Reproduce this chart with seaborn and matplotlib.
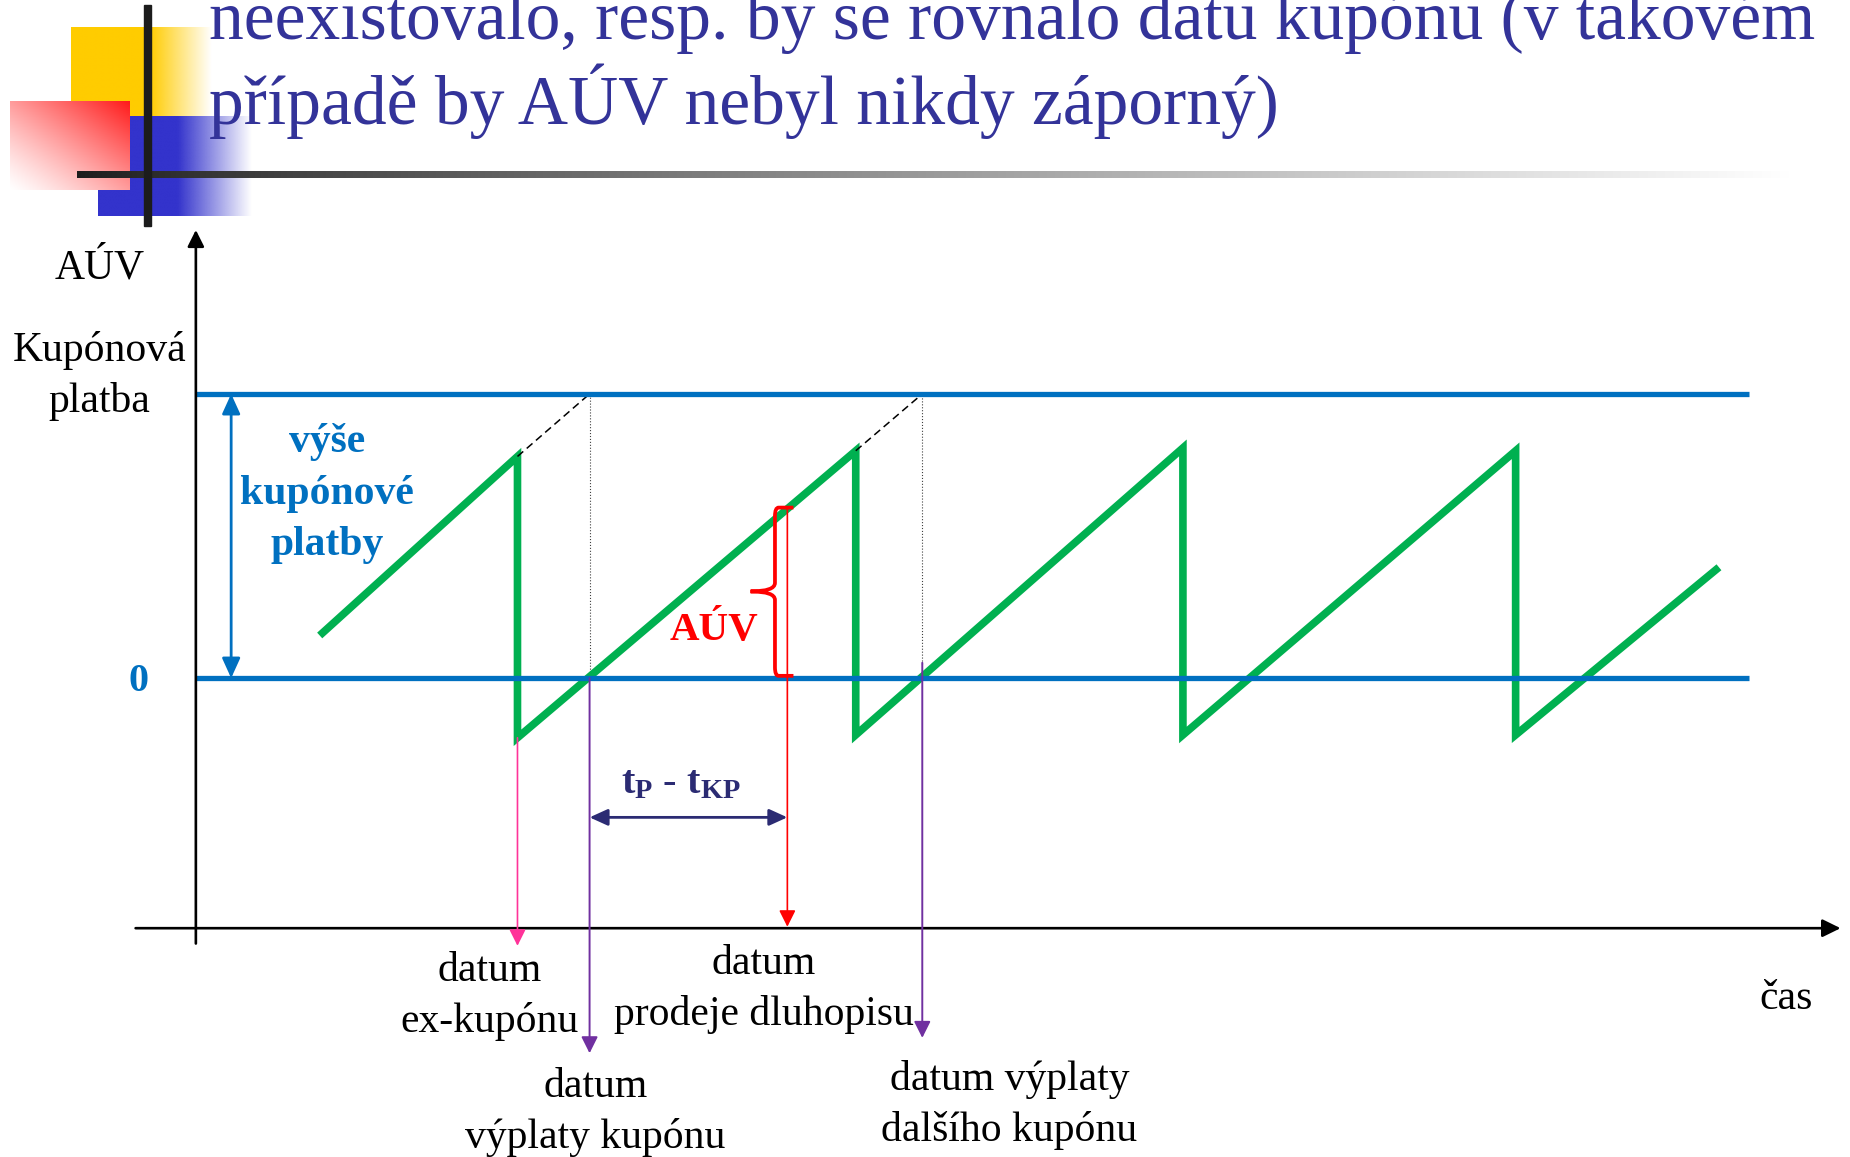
import numpy as np
import matplotlib
matplotlib.use("Agg")
import matplotlib.pyplot as plt
import seaborn as sns
from matplotlib.colors import to_rgb
from matplotlib.path import Path
from matplotlib.patches import PathPatch, Rectangle

# ---------------- data ----------------
title_lines = ["neexistovalo, resp. by se rovnalo datu kupónu (v takovém",
               "případě by AÚV nebyl nikdy záporný)"]
auv_days = [67, 174, 174, 357, 357, 534, 534, 714, 714, 824]
auv_values = [0.15, 0.78, -0.21, 0.80, -0.20, 0.81, -0.20, 0.80, -0.20, 0.39]
level_values = [0.0, 1.0]          # zero line, coupon payment level
ext_start_days = [174, 357]
ext_start_values = [0.78, 0.80]
ext_end_days = [213, 393]
ex_coupon_day = 174
coupon_day = 213
sale_day = 320
next_coupon_day = 393
sale_auv = 0.60

y_label = "AÚV"
level_label = "Kupónová\nplatba"
zero_label = "0"
coupon_label = "výše\nkupónové\nplatby"
auv_label = "AÚV"
diff_label = r"t$_{\mathbf{P}}$ - t$_{\mathbf{KP}}$"
x_label = "čas"
date_labels = ["datum\nex-kupónu", "datum\nprodeje dluhopisu",
               "datum\nvýplaty kupónu", "datum výplaty\ndalšího kupónu"]

# ---------------- style ----------------
GREEN = "#00b050"
BLUE = "#0070c0"
RED = "#ff0000"
PURPLE = "#7030a0"
PINK = "#ff3399"
NAVY = "#2b2b73"
TITLE = "#333399"

sns.set_theme(style="white")
plt.rcParams["font.family"] = ["Liberation Serif", "DejaVu Serif"]
plt.rcParams["mathtext.fontset"] = "custom"
plt.rcParams["mathtext.rm"] = "Liberation Serif"
plt.rcParams["mathtext.bf"] = "Liberation Serif:bold"
plt.rcParams["mathtext.it"] = "Liberation Serif:italic"

fig = plt.figure(figsize=(18.5, 11.57), dpi=100)

# ---------------- decorative header (pixel space) ----------------
bg = fig.add_axes([0, 0, 1, 1], zorder=0)


def hfade(x0, x1, y0, y1, color, solid_to, n=300):
    xs = np.linspace(x0, x1, n)
    a = np.clip((x1 - xs) / (x1 - solid_to), 0, 1)
    img = np.ones((1, n, 4))
    img[..., :3] = to_rgb(color)
    img[..., 3] = a
    bg.imshow(img, extent=(x0, x1, y1, y0), aspect="auto",
              interpolation="bilinear", zorder=1)


hfade(71, 212, 27, 116, "#ffcc00", 150)
hfade(98, 252, 116, 216, "#3333cc", 178)

n = 200
u = np.linspace(0, 1, n)[None, :]
v = np.linspace(1, 0, n)[:, None]
a = np.clip(((u + v) / 2) ** 1.2, 0, 1)
red_rgb = np.array(to_rgb("#ff1a1a"))
img = (1 - a)[..., None] * np.ones(3) + a[..., None] * red_rgb
bg.imshow(img, extent=(10, 130, 190, 101), aspect="auto",
          interpolation="bilinear", zorder=2)

xs = np.linspace(0, 1, 600)
g = 0.11 + 0.89 * xs ** 0.85
bar = np.stack([g, g, g], axis=-1)[None, :, :]
bg.imshow(bar, extent=(77, 1790, 178, 171), aspect="auto",
          interpolation="bilinear", zorder=3)
bg.add_patch(Rectangle((144, 5), 7, 221, color="#1c1c1c", zorder=3))

bg.text(209, 39, title_lines[0], fontsize=50, color=TITLE, va="baseline",
        ha="left", zorder=5)
bg.text(209, 124, title_lines[1], fontsize=50, color=TITLE, va="baseline",
        ha="left", zorder=5)
bg.set_xlim(0, 1850)
bg.set_ylim(1157, 0)
bg.axis("off")

# ---------------- main chart ----------------
ax = fig.add_axes([166 / 1568, 1 - 787 / 981, 1316 / 1568, 453 / 981], zorder=2)
ax.set_xlim(0, 840)
ax.set_ylim(-0.88, 1.0)
ax.axis("off")

sns.lineplot(x=auv_days, y=auv_values, sort=False, estimator=None,
             color=GREEN, linewidth=5.5, ax=ax, zorder=3, legend=False,
             solid_joinstyle="miter", solid_capstyle="butt")
ax.hlines(level_values, 0, 840, colors=BLUE, linewidths=3.8, zorder=4,
          clip_on=False)

for s, sv, e in zip(ext_start_days, ext_start_values, ext_end_days):
    ax.plot([s, e], [sv, level_values[1]], ls=(0, (5, 3)), color="black",
            lw=1.1, zorder=3)

ax.vlines([coupon_day], level_values[0], level_values[1], colors="#404040",
          linewidths=0.8, linestyles=":", zorder=2)
ax.vlines([next_coupon_day], 0.05, level_values[1], colors="#404040",
          linewidths=0.8, linestyles=":", zorder=2)


def arrow(x0, y0, x1, y1, color, lw, style="-|>", hl=0.5, hw=0.25, ms=20, z=5):
    ax.annotate("", xy=(x1, y1), xytext=(x0, y0),
                arrowprops=dict(arrowstyle=f"{style},head_length={hl},head_width={hw}",
                                color=color, lw=lw, shrinkA=0, shrinkB=0,
                                mutation_scale=ms),
                annotation_clip=False, zorder=z)


# axes arrows
arrow(0, -0.934, 0, 1.577, "black", 1.9)
arrow(-32.6, -0.88, 889.8, -0.88, "black", 1.9, hl=0.55, hw=0.27)

# coupon height double arrow
arrow(19.1, 0.0, 19.1, 1.0, BLUE, 2.0, style="<|-|>", hl=0.55, hw=0.25, ms=22)

# event arrows
arrow(ex_coupon_day, -0.21, ex_coupon_day, -0.942, PINK, 1.2)
arrow(coupon_day, 0.0, coupon_day, -1.32, PURPLE, 1.4)
arrow(sale_day, sale_auv, sale_day, -0.875, RED, 1.2)
arrow(next_coupon_day, 0.054, next_coupon_day, -1.266, PURPLE, 1.4)

# t_P - t_KP double arrow
arrow(coupon_day, -0.49, sale_day, -0.49, NAVY, 2.0, style="<|-|>",
      hl=0.55, hw=0.25, ms=20)

# red brace
xs_, xt_, xc_ = 313.3, 323.3, 300.1
yt_, yb_, ym_ = sale_auv, 0.008, 0.305
r = 0.03
verts = [(xt_, yt_), (xs_ + 2, yt_), (xs_, yt_), (xs_, yt_ - r),
         (xs_, ym_ + r), (xs_, ym_), (xc_, ym_),
         (xs_, ym_), (xs_, ym_ - r),
         (xs_, yb_ + r), (xs_, yb_), (xs_ + 2, yb_), (xt_, yb_)]
codes = [Path.MOVETO, Path.LINETO, Path.CURVE3, Path.CURVE3,
         Path.LINETO, Path.CURVE3, Path.CURVE3,
         Path.CURVE3, Path.CURVE3,
         Path.LINETO, Path.CURVE3, Path.CURVE3, Path.LINETO]
ax.add_patch(PathPatch(Path(verts, codes), fill=False, edgecolor=RED,
                       lw=2.7, zorder=6, capstyle="butt", joinstyle="miter"))


def lines(x, y0, text, dy=0.179, **kw):
    for i, s in enumerate(text.split("\n")):
        ax.text(x, y0 - i * dy, s, ha="center", va="baseline", **kw)


lines(-52.2, 1.407, y_label, fontsize=30, color="black")
lines(-52.2, 1.117, level_label, fontsize=30, color="black")
lines(-31.0, -0.046, zero_label, fontsize=29, fontweight="bold", color=BLUE)
lines(71.1, 0.794, coupon_label, dy=0.180, fontsize=30, fontweight="bold",
      color=BLUE)
lines(280.3, 0.135, auv_label, fontsize=29.5, fontweight="bold", color=RED)
lines(262.3, -0.404, diff_label, fontsize=29, fontweight="bold", color=NAVY)

date_pos = [(158.9, -1.066), (307.2, -1.041), (216.3, -1.473), (440.2, -1.451)]
for (x, y), lab in zip(date_pos, date_labels):
    lines(x, y, lab, fontsize=30, color="black")
lines(860.5, -1.164, x_label, fontsize=30, color="black")

fig.savefig("out.png", dpi=100)
